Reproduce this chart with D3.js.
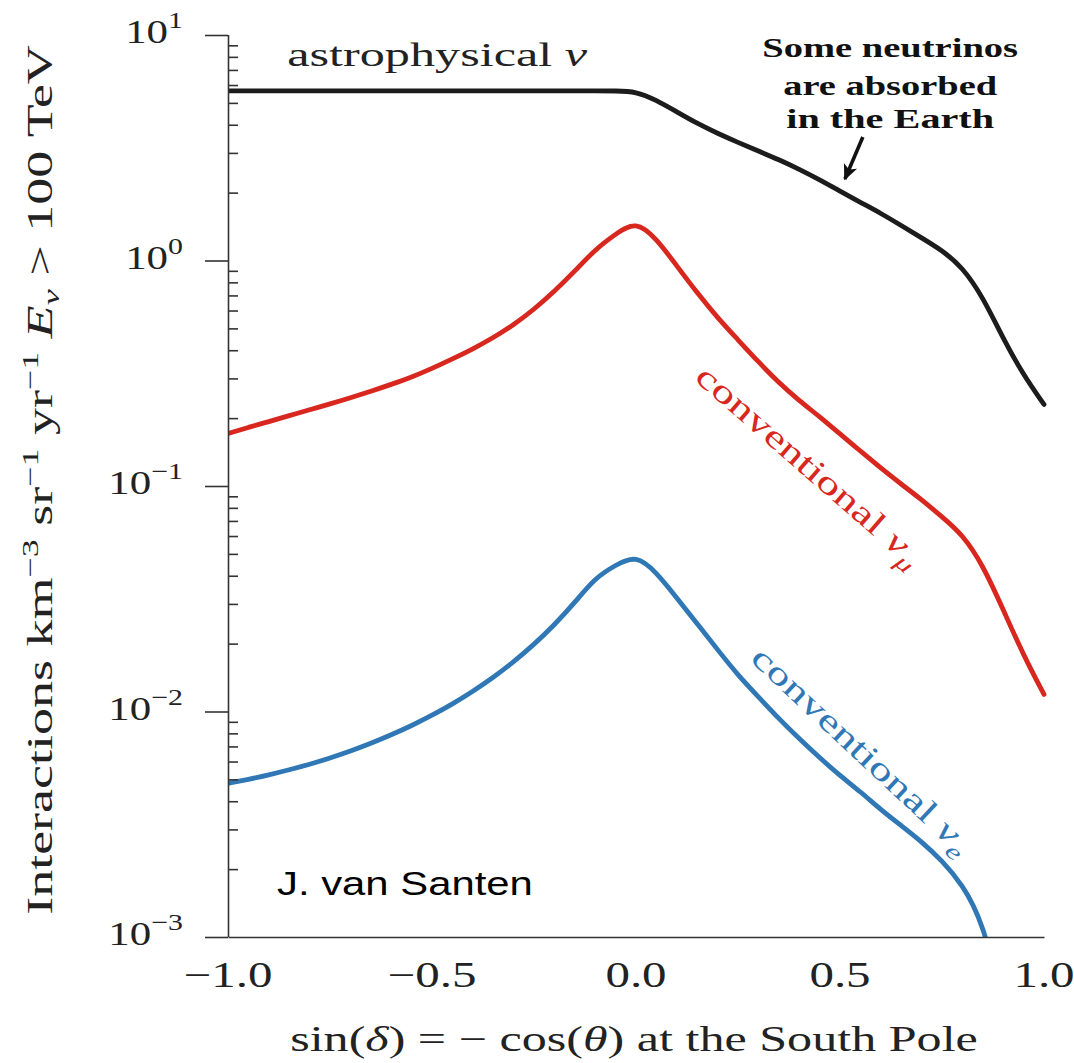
<!DOCTYPE html>
<html><head><meta charset="utf-8">
<script src="https://cdn.jsdelivr.net/npm/d3@7"></script>
<style>body{margin:0;background:#fff}svg{display:block}</style>
</head><body><svg id="c" width="1074" height="1063"></svg>
<script>
// ---- data ----
const sinDelta = [-1.0,-0.95,-0.9,-0.85,-0.8,-0.75,-0.7,-0.65,-0.6,-0.55,-0.5,-0.45,-0.4,-0.35,-0.3,-0.25,-0.2,-0.15,-0.1,-0.05,
  0.0,0.05,0.1,0.15,0.2,0.25,0.3,0.35,0.4,0.45,0.5,0.55,0.6,0.65,0.7,0.75,0.8,0.85,0.9,0.95,1.0];
const astrophysical = [5.65,5.65,5.65,5.65,5.65,5.65,5.65,5.65,5.65,5.65,5.65,5.65,5.65,5.65,5.65,5.65,5.65,5.65,5.65,5.65,
  5.62,5.14,4.56,4.05,3.66,3.34,3.06,2.80,2.54,2.28,2.03,1.81,1.62,1.43,1.26,1.11,0.935,0.690,0.450,0.310,0.230];
const conventionalNuMu = [0.171,0.182,0.193,0.205,0.218,0.231,0.246,0.263,0.282,0.304,0.332,0.366,0.405,0.454,0.518,0.607,0.729,0.897,1.12,1.31,
  1.50,1.25,0.947,0.718,0.557,0.445,0.355,0.287,0.239,0.203,0.170,0.143,0.120,0.102,0.087,0.073,0.061,0.0447,0.0283,0.0177,0.0119];
const conventionalNuE = [0.00480,0.00500,0.00523,0.00551,0.00583,0.00622,0.00667,0.00722,0.00787,0.00865,0.00961,0.01079,0.01227,0.01414,0.01658,0.01983,0.0242,0.0304,0.0392,0.0446,
  0.0495,0.0415,0.0319,0.0245,0.0188,0.01448,0.01163,0.00929,0.00758,0.00624,0.00519,0.00441,0.00367,0.00312,0.00265,0.00218,0.00171,0.00117,0.00050,0.00020,null];

const xTicks = [-1.0,-0.5,0.0,0.5,1.0];
const xTickLabels = ["\u22121.0","\u22120.5","0.0","0.5","1.0"];
const yTicks = [1e-3,1e-2,1e-1,1,10];
const yTickExponents = ["\u22123","\u22122","\u22121","0","1"];

const seriesColors = ["#1c1c1c","#d8271e","#2f77b5"];

// annotation anchors in data coordinates
const arrowFrom = [0.556, 3.53];
const arrowTo = [0.512, 2.30];

// ---- chart ----
const svg = d3.select("#c");
svg.append("rect").attr("width",1074).attr("height",1063).attr("fill","#fff");
const serif = "Liberation Serif, Times New Roman, serif";
const x = d3.scaleLinear().domain([-1,1]).range([228,1044]);
const y = d3.scaleLog().domain([1e-3,10]).range([937,35]);

const defs = svg.append("defs");
defs.append("clipPath").attr("id","clip")
  .append("rect").attr("x",228).attr("y",20).attr("width",830).attr("height",917);
defs.append("marker").attr("id","ah").attr("viewBox","0 0 10 10")
  .attr("refX",9).attr("refY",5).attr("markerWidth",4.4).attr("markerHeight",4.4)
  .attr("orient","auto").attr("markerUnits","strokeWidth")
  .append("path").attr("d","M0,0.5L10,5L0,9.5L2.5,5Z").attr("fill","#111");

// text helper: positioned group, text stretched along its reading direction
function label(px, py, angle, opts) {
  const g = svg.append("g").attr("transform", `translate(${px},${py}) rotate(${angle||0})`);
  const t = g.append("text").attr("text-anchor", opts.anchor || "start")
    .attr("font-family", opts.family || serif).attr("font-size", opts.size)
    .attr("fill", opts.fill || "#222");
  if (opts.weight) t.attr("font-weight", opts.weight);
  (opts.parts || [{text: opts.text}]).forEach(p => {
    const s = t.append("tspan").text(p.text);
    if (p.size) s.attr("font-size", p.size);
    if (p.dy) s.attr("dy", p.dy);
    if (p.italic) s.attr("font-style","italic");
  });
  const w = t.node().getComputedTextLength();
  const sx = opts.target ? opts.target / w : (opts.sx || 1);
  t.attr("transform", `scale(${sx},1)`);
  return t;
}

// curves
const seriesData = [astrophysical, conventionalNuMu, conventionalNuE];
const line = d3.line()
  .defined(d => d[1] != null)
  .x(d => x(d[0])).y(d => y(d[1]))
  .curve(d3.curveBasis);
const plot = svg.append("g").attr("clip-path","url(#clip)");
seriesData.forEach((vals,i) => {
  plot.append("path")
    .datum(sinDelta.map((s,j) => [s, vals[j]]))
    .attr("d", line).attr("fill","none")
    .attr("stroke", seriesColors[i]).attr("stroke-width", 4.8)
    .attr("stroke-linejoin","round").attr("stroke-linecap","round");
});

// left axis: major ticks outward, minor ticks inward
const axisColor = "#333";
const gY = svg.append("g").attr("transform","translate(228,0)")
  .call(d3.axisLeft(y).tickValues(yTicks).tickSize(23).tickFormat(""));
const minor = y.ticks().filter(v => !yTicks.some(t => Math.abs(t - v) / t < 1e-9));
const gYm = svg.append("g").attr("transform","translate(228,0)")
  .call(d3.axisRight(y).tickValues(minor).tickSize(10).tickSizeOuter(0).tickFormat(""));
gYm.select(".domain").remove();
[gY,gYm].forEach(g => {
  g.selectAll("line").attr("stroke",axisColor).attr("stroke-width",1.6);
  g.selectAll(".domain").attr("stroke",axisColor).attr("stroke-width",1.6).attr("d","M0.5,35V937");
});

// bottom axis (spine only, labels drawn below)
const gX = svg.append("g").attr("transform","translate(0,937)")
  .call(d3.axisBottom(x).tickValues(xTicks).tickSize(0).tickFormat(""));
gX.select(".domain").attr("stroke",axisColor).attr("stroke-width",1.6);
xTicks.forEach((v,i) => {
  label(x(v), 987, 0, {anchor:"middle", size:36, sx:1.36, text:xTickLabels[i]});
});

// y tick labels 10^k
yTicks.forEach((v,i) => {
  label(183, y(v)+8, 0, {anchor:"end", size:33, sx:1.3,
    parts:[{text:"10"},{text:yTickExponents[i], size:23, dy:-15}]});
});

// axis titles
label(x(0)-2, 1051, 0, {anchor:"middle", size:35, target:688, parts:[
  {text:"sin("},{text:"\u03B4", italic:true},{text:") = \u2212 cos("},
  {text:"\u03B8", italic:true},{text:")  at the South Pole"}]});

label(52, 480, -90, {anchor:"middle", size:36, target:870, parts:[
  {text:"Interactions km"},
  {text:"\u22123", size:24, dy:-14},
  {text:" sr", dy:14},
  {text:"\u22121", size:24, dy:-14},
  {text:" yr", dy:14},
  {text:"\u22121", size:24, dy:-14},
  {text:" ", dy:14},
  {text:"E", italic:true},
  {text:"\u03BD", italic:true, size:24, dy:7},
  {text:" > 100 TeV", dy:-7}
]});

// series labels
label(x(-0.855), y(7.3), 0, {size:33, target:300, parts:[
  {text:"astrophysical "},{text:"\u03BD", italic:true}]});

label(x(0.407), y(0.113), 41, {anchor:"middle", size:33, target:288, fill:seriesColors[1], parts:[
  {text:"conventional "},{text:"\u03BD", italic:true},{text:"\u03BC", italic:true, size:23, dy:8}]});
label(x(0.535), y(0.0062), 43, {anchor:"middle", size:33, target:288, fill:seriesColors[2], parts:[
  {text:"conventional "},{text:"\u03BD", italic:true},{text:"e", italic:true, size:23, dy:8}]});

// absorption note
const note = ["Some neutrinos","are absorbed","in the Earth"];
const noteY = [8.0, 5.4, 3.85];
const noteWidth = [256, 214, 208];
note.forEach((s,i) => {
  label(x(0.623), y(noteY[i]), 0, {anchor:"middle", size:27, weight:"bold", fill:"#111",
    target:noteWidth[i], text:s});
});
svg.append("line").attr("x1",x(arrowFrom[0])).attr("y1",y(arrowFrom[1]))
  .attr("x2",x(arrowTo[0])).attr("y2",y(arrowTo[1]))
  .attr("stroke","#111").attr("stroke-width",3.6).attr("marker-end","url(#ah)");

// credit
label(x(-0.88), y(0.00153), 0, {size:34, family:"Liberation Sans, Arial, sans-serif",
  fill:"#000", target:256, text:"J. van Santen"});
</script></body></html>
